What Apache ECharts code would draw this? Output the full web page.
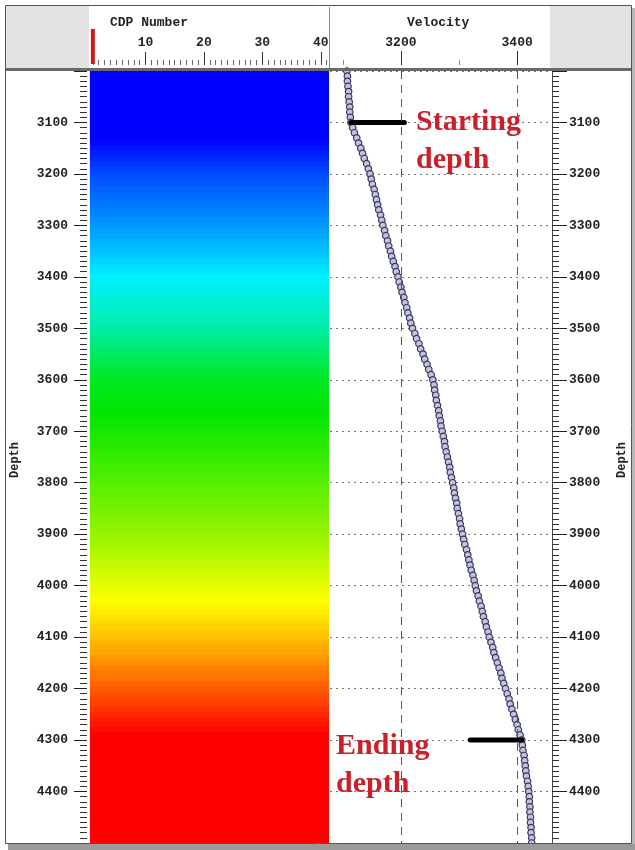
<!DOCTYPE html>
<html>
<head>
<meta charset="utf-8">
<script src="https://cdn.jsdelivr.net/npm/echarts@6/dist/echarts.min.js"></script>
<style>
  html, body { margin: 0; padding: 0; background: #fff; }
  #chart { width: 635px; height: 850px; }
</style>
</head>
<body>
<div id="chart"></div>
<script>
// Depth samples of the velocity function (m)
const depths = [
  3000, 3010, 3020, 3030, 3040, 3050, 3060, 3070, 3080, 3090,
  3100, 3110, 3120, 3130, 3140, 3150, 3160, 3170, 3180, 3190,
  3200, 3210, 3220, 3230, 3240, 3250, 3260, 3270, 3280, 3290,
  3300, 3310, 3320, 3330, 3340, 3350, 3360, 3370, 3380, 3390,
  3400, 3410, 3420, 3430, 3440, 3450, 3460, 3470, 3480, 3490,
  3500, 3510, 3520, 3530, 3540, 3550, 3560, 3570, 3580, 3590,
  3600, 3610, 3620, 3630, 3640, 3650, 3660, 3670, 3680, 3690,
  3700, 3710, 3720, 3730, 3740, 3750, 3760, 3770, 3780, 3790,
  3800, 3810, 3820, 3830, 3840, 3850, 3860, 3870, 3880, 3890,
  3900, 3910, 3920, 3930, 3940, 3950, 3960, 3970, 3980, 3990,
  4000, 4010, 4020, 4030, 4040, 4050, 4060, 4070, 4080, 4090,
  4100, 4110, 4120, 4130, 4140, 4150, 4160, 4170, 4180, 4190,
  4200, 4210, 4220, 4230, 4240, 4250, 4260, 4270, 4280, 4290,
  4300, 4310, 4320, 4330, 4340, 4350, 4360, 4370, 4380, 4390,
  4400, 4410, 4420, 4430, 4440, 4450, 4460, 4470, 4480, 4490,
  4500
];

// Velocity at each depth sample (m/s)
const velocities = [
  3107, 3108, 3108, 3109, 3110, 3110, 3111, 3112, 3112, 3113,
  3114, 3117, 3120, 3124, 3127, 3131, 3134, 3137, 3141, 3144,
  3147, 3149, 3151, 3154, 3156, 3158, 3160, 3162, 3165, 3167,
  3169, 3172, 3174, 3177, 3179, 3182, 3184, 3187, 3190, 3192,
  3195, 3197, 3200, 3202, 3205, 3207, 3210, 3212, 3215, 3217,
  3220, 3224, 3227, 3231, 3234, 3238, 3241, 3245, 3248, 3252,
  3255, 3257, 3258, 3260, 3261, 3263, 3265, 3266, 3268, 3269,
  3271, 3273, 3275, 3276, 3278, 3280, 3282, 3284, 3285, 3287,
  3289, 3291, 3292, 3294, 3296, 3297, 3299, 3301, 3302, 3304,
  3306, 3308, 3310, 3313, 3315, 3317, 3319, 3321, 3324, 3326,
  3328, 3330, 3333, 3335, 3338, 3340, 3342, 3345, 3347, 3350,
  3352, 3355, 3358, 3360, 3363, 3366, 3369, 3372, 3374, 3377,
  3380, 3383, 3386, 3388, 3391, 3394, 3397, 3400, 3402, 3405,
  3408, 3409, 3410, 3412, 3413, 3414, 3415, 3416, 3418, 3419,
  3420, 3421, 3421, 3422, 3422, 3423, 3423, 3424, 3424, 3425,
  3425
];

// CDP range covered by the colour panel, and the selected CDP
const cdpRange = [1, 41];
const currentCdp = [1];

// Velocity axis: labelled ticks, small ticks, dashed guide lines
const velocityMajorTicks = [3200, 3400];
const velocityMinorTicks = [3100, 3300];
const velocityGuides = [3200, 3400];

// Pointer bars at the start and end of the picked interval
const startDepth = [3100];
const startPointerVelocity = [3114, 3206];
const endDepth = [4300];
const endPointerVelocity = [3319, 3408];

// Annotation labels
const annotationTexts = ['Starting\ndepth', 'Ending\ndepth'];
const panelTitles = ['CDP Number', 'Velocity'];
const depthTitle = 'Depth';

const chart = echarts.init(document.getElementById('chart'), null, { renderer: 'canvas' });

const plain = v => String(v);
const tickFont = { fontFamily: 'Liberation Mono', fontWeight: 'bold', fontSize: 13, color: '#222', formatter: plain };
const step = depths[1] - depths[0];

const option = {
  animation: false,
  backgroundColor: '#ffffff',
  grid: [
    { left: 87, top: 71, width: 242, height: 772 },
    { left: 330, top: 71, width: 222, height: 772 }
  ],
  xAxis: [
    {
      gridIndex: 0, type: 'value', position: 'top', offset: 6,
      min: 0, max: 41.4, interval: 10,
      axisLine: { show: false },
      axisTick: { show: true, length: 13, lineStyle: { color: '#333' } },
      minorTick: { show: true, splitNumber: 10, length: 5, lineStyle: { color: '#666' } },
      axisLabel: Object.assign({ margin: 16, showMinLabel: false, showMaxLabel: false }, tickFont),
      splitLine: { show: false }
    },
    {
      gridIndex: 1, type: 'value', position: 'top', offset: 6,
      min: 3078, max: 3460,
      axisLine: { show: false },
      axisTick: { show: true, length: 14, customValues: velocityMajorTicks, lineStyle: { color: '#333' } },
      axisLabel: Object.assign({ margin: 16, customValues: velocityMajorTicks }, tickFont),
      splitLine: { show: false }
    },
    {
      gridIndex: 1, type: 'value', position: 'top', offset: 6,
      min: 3078, max: 3460,
      axisLine: { show: false },
      axisTick: { show: true, length: 5, customValues: velocityMinorTicks, lineStyle: { color: '#888' } },
      axisLabel: { show: false },
      splitLine: { show: false }
    }
  ],
  yAxis: [
    {
      gridIndex: 0, type: 'value', inverse: true, position: 'left', offset: 2,
      min: 3000, max: 4500, interval: 100,
      axisLine: { show: false },
      axisTick: { show: true, length: 13, lineStyle: { color: '#222' } },
      minorTick: { show: true, splitNumber: 10, length: 7, lineStyle: { color: '#333' } },
      axisLabel: Object.assign({ margin: 17, showMinLabel: false, showMaxLabel: false }, tickFont),
      splitLine: { show: false }
    },
    {
      gridIndex: 1, type: 'value', inverse: true, position: 'right',
      min: 3000, max: 4500, interval: 100,
      axisLine: { show: true, lineStyle: { color: '#444', width: 1 } },
      axisTick: { show: true, length: 15, lineStyle: { color: '#222' } },
      minorTick: { show: true, splitNumber: 10, length: 7, lineStyle: { color: '#333' } },
      axisLabel: Object.assign({ margin: 17, showMinLabel: false, showMaxLabel: false }, tickFont),
      splitLine: { show: true, lineStyle: { type: [2, 4], color: '#777', width: 1 } }
    }
  ],
  visualMap: {
    type: 'continuous', show: false, seriesIndex: 0, dimension: 1,
    min: 3125, max: 3405,
    inRange: { color: ['#0000ff', '#00f0ff', '#00e600', '#ffff00', '#ff0000'] }
  },
  series: [
    {
      // colour panel: one horizontal band per depth sample, coloured by velocity
      type: 'custom',
      xAxisIndex: 0, yAxisIndex: 0,
      encode: { y: 0 },
      data: depths.map((d, i) => [d, velocities[i]]),
      renderItem: function (params, api) {
        const d = api.value(0);
        const p0 = api.coord([cdpRange[0] - 0.5, d - step / 2]);
        const p1 = api.coord([cdpRange[1] + 0.5, d + step / 2]);
        const cs = params.coordSys;
        const rect = echarts.graphic.clipRectByRect(
          { x: p0[0], y: p0[1], width: p1[0] - p0[0], height: p1[1] - p0[1] + 0.8 },
          { x: cs.x, y: cs.y, width: cs.width, height: cs.height }
        );
        if (!rect) return;
        return { type: 'rect', shape: rect, style: { fill: api.visual('color') } };
      },
      z: 1
    },
    {
      name: 'Velocity',
      type: 'line',
      xAxisIndex: 1, yAxisIndex: 1,
      data: depths.map((d, i) => [velocities[i], d]),
      symbol: 'circle', symbolSize: 6.5, showAllSymbol: true,
      itemStyle: { color: '#c4c4d4', borderColor: '#34346a', borderWidth: 1.2 },
      lineStyle: { color: '#30305f', width: 1 },
      markLine: {
        silent: true, symbol: 'none', label: { show: false },
        lineStyle: { type: [8, 6], color: '#555', width: 1 },
        data: velocityGuides.map(v => ({ xAxis: v }))
      },
      z: 3
    },
    {
      type: 'line', xAxisIndex: 1, yAxisIndex: 1,
      data: startPointerVelocity.map(v => [v, startDepth[0]]),
      symbol: 'none',
      lineStyle: { color: '#000', width: 5, cap: 'round' },
      z: 4
    },
    {
      type: 'line', xAxisIndex: 1, yAxisIndex: 1,
      data: endPointerVelocity.map(v => [v, endDepth[0]]),
      symbol: 'none',
      lineStyle: { color: '#000', width: 5, cap: 'round' },
      z: 4
    }
  ]
};

chart.setOption(option);

// frame, header blocks, titles and annotations
const markerX = chart.convertToPixel({ xAxisIndex: 0 }, currentCdp[0]);
const titleFont = 'bold 13px "Liberation Mono"';
const noteFont = 'bold 30px "Liberation Serif"';

chart.setOption({
  graphic: [
    { type: 'rect', z: 5, silent: true, shape: { x: 6, y: 6, width: 83, height: 62 }, style: { fill: '#e3e3e3' } },
    { type: 'rect', z: 5, silent: true, shape: { x: 550, y: 6, width: 82, height: 62 }, style: { fill: '#e3e3e3' } },
    { type: 'line', z: 5, silent: true, shape: { x1: 329.5, y1: 7, x2: 329.5, y2: 68 }, style: { stroke: '#8a8a8a', lineWidth: 1 } },
    { type: 'rect', z: 5, silent: true, shape: { x: 5, y: 68, width: 627, height: 3 }, style: { fill: '#6a6a6a' } },
    { type: 'rect', z: 5, silent: true, shape: { x: 5.5, y: 5.5, width: 626, height: 838 }, style: { fill: null, stroke: '#555', lineWidth: 1 } },
    { type: 'rect', z: 5, silent: true, shape: { x: 8, y: 844, width: 627, height: 6 }, style: { fill: '#9a9a9a' } },
    { type: 'rect', z: 5, silent: true, shape: { x: 632, y: 8, width: 3, height: 836 }, style: { fill: '#b8b8b8' } },
    { type: 'rect', z: 6, silent: true, shape: { x: markerX - 2, y: 29, width: 4, height: 35 }, style: { fill: '#d01818' } },
    { type: 'text', z: 6, silent: true, style: { x: 110, y: 23, text: panelTitles[0], font: titleFont, fill: '#222', verticalAlign: 'middle' } },
    { type: 'text', z: 6, silent: true, style: { x: 407, y: 23, text: panelTitles[1], font: titleFont, fill: '#222', verticalAlign: 'middle' } },
    { type: 'text', z: 6, silent: true, x: 15, y: 460, rotation: Math.PI / 2,
      style: { x: 0, y: 0, text: depthTitle, font: 'bold 12px "Liberation Mono"', fill: '#222', align: 'center', verticalAlign: 'middle' } },
    { type: 'text', z: 6, silent: true, x: 622, y: 460, rotation: Math.PI / 2,
      style: { x: 0, y: 0, text: depthTitle, font: 'bold 12px "Liberation Mono"', fill: '#222', align: 'center', verticalAlign: 'middle' } },
    { type: 'text', z: 10, silent: true, style: { x: 416, y: 103, text: annotationTexts[0], font: noteFont, lineHeight: 38, fill: '#cc1f2a' } },
    { type: 'text', z: 10, silent: true, style: { x: 336, y: 727, text: annotationTexts[1], font: noteFont, lineHeight: 38, fill: '#cc1f2a' } }
  ]
});
</script>
</body>
</html>
